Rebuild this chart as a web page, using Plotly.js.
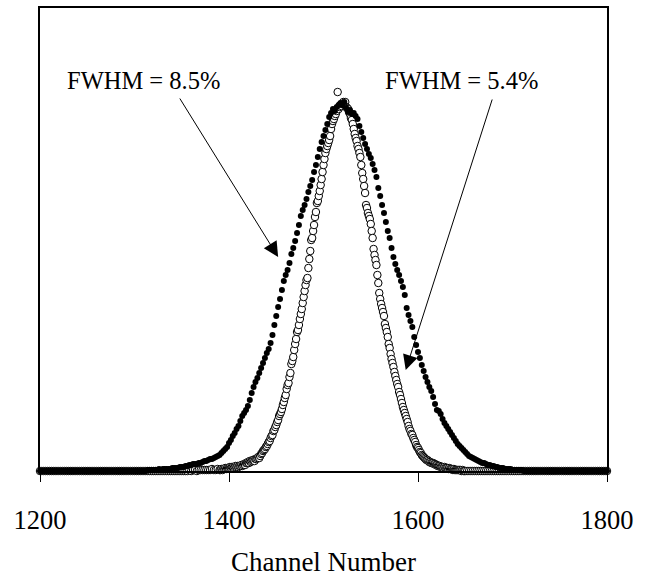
<!DOCTYPE html>
<html><head><meta charset="utf-8">
<script src="https://cdn.plot.ly/plotly-3.0.1.min.js"></script>
<style>html,body{margin:0;padding:0;background:#fff}#chart{width:657px;height:580px}</style>
</head><body><div id="chart"></div>
<script>
// Tick labels
const xTickValues = [1200, 1400, 1600, 1800];
const xTickLabels = ['1200', '1400', '1600', '1800'];
const xAxisTitle = 'Channel Number';
const labelWide = 'FWHM = 8.5%';
const labelNarrow = 'FWHM = 5.4%';

// Wide peak (filled dots, FWHM 8.5%), channel step 2
const wideBaseLeftStart = 1200;
const wideBaseLeft = [0,0,0,0,0,0,0,0,0,0, 0,0,0,0,0,0,0,0,0,0, 0,0,0,0,0,0,0,0,0,0, 0,0,0,0,0,0,0,0,0,0, 0,0,0,0,0,0,0,0,0,0, 0,0,0,0,0,0,0];
const wideMainStart = 1314;
const wideMain = [
  1,1,1,1,1,1,2,1,2,2,
  2,2,2,3,3,3,3,4,4,4,
  5,5,6,6,7,7,7,8,8,9,
  10,10,11,12,12,13,14,15,16,18,
  20,22,24,28,31,35,38,42,45,50,
  55,58,61,65,71,78,84,89,93,98,
  103,108,113,118,122,128,136,146,155,164,
  172,181,190,196,201,208,217,223,230,238,
  246,255,261,266,272,279,285,291,299,306,
  314,322,329,335,341,347,354,358,362,360,
  364,366,368,366,369,363,359,361,357,358,
  355,352,345,339,333,327,322,317,313,307,
  301,294,283,275,266,258,249,240,233,223,
  214,207,201,196,190,184,176,163,156,150,
  144,134,126,119,113,106,100,94,89,84,
  80,74,67,61,60,57,52,48,45,42,
  39,36,33,30,27,25,23,21,19,17,
  15,14,13,12,11,10,9,8,8,7,
  6,6,5,5,4,4,3,3,3,2,
  2,2,2,1,1,1,1,1,1
];
const wideBaseRightStart = 1712;
const wideBaseRight = [0,0,0,0,0,0,0,0,0,0, 0,0,0,0,0,0,0,0,0,0, 0,0,0,0,0,0,0,0,0,0, 0,0,0,0,0,0,0,0,0,0, 0,0,0,0,0];
const wideStep = 2;

// Narrow peak (open circles, FWHM 5.4%)
const narrowBaseLeftStart = 1200;
const narrowBaseLeft = [0,0,0,0,0,0,0,0,0,0, 0,0,0,0,0,0,0,0,0,0, 0,0,0,0,0,0,0,0,0,0, 0,0,0,0,0,0,0,0,0,0, 0,0,0,0,0,0,0,0,0,0, 0,0,0,0,0,0,0,0,0,0, 0,0,0,0,0,0,0,0,0,0, 0,0,0,0,0,0];
const narrowTailLeftStart = 1352;
const narrowTailLeft = [0,0,0,1,0,1,1,0,1,1,1,1,1,1,1,2,1,1,2];
const narrowMainStart = 1390;
const narrowMain = [
  1,1,2,1,2,2,3,2,3,3,
  3,4,3,4,4,3,4,5,4,5,
  4,5,5,6,5,6,7,6,8,8,
  9,8,10,9,10,11,11,10,12,12,
  13,14,13,15,17,18,20,21,22,24,
  25,27,29,30,33,35,36,40,41,44,
  46,49,51,55,57,59,62,66,69,73,
  76,82,86,88,94,98,107,110,114,121,
  127,132,139,141,146,152,157,162,168,174,
  180,186,191,193,203,212,220,231,233,240,
  246,254,259,268,270,275,280,286,292,299,
  306,312,318,322,325,328,331,335,342,347,
  350,352,355,357,360,379,362,364,366,365,
  367,369,366,369,364,363,362,359,357,353,
  351,347,342,337,333,330,325,322,318,314,
  306,298,292,285,278,266,263,258,255,252,
  247,240,233,222,216,211,206,196,188,178,
  172,167,163,159,155,147,143,139,134,127,
  123,117,112,108,104,99,95,91,87,84,
  79,76,72,68,64,61,58,55,52,49,
  45,42,40,37,36,33,31,29,26,24,
  23,21,19,18,16,15,14,13,12,11,
  11,10,9,9,8,8,8,7,7,6,
  6,5,5,5,4,4,4,3,4,3,
  3,3,2,3,2,2,2,1,2,1,
  1,1,1,1,1,1,0,1,0,0,0
];
const narrowBaseRightStart = 1652;
const narrowBaseRight = [0,0,0,0,0,0,0,0,0,0, 0,0,0,0,0,0,0,0,0,0, 0,0,0,0,0,0,0,0,0,0, 0,0,0,0,0,0,0,0,0,0, 0,0,0,0,0,0,0,0,0,0, 0,0,0,0,0,0,0,0,0,0, 0,0,0,0,0,0,0,0,0,0, 0,0,0,0,0];

function channels(start, step, vals) {
  return vals.map((_, i) => start + step * i);
}
function joinSegments(segs) {
  const x = [], y = [];
  segs.forEach(s => { channels(s[0], s[1], s[2]).forEach(v => x.push(v)); s[2].forEach(v => y.push(v)); });
  return {x, y};
}

const wide = joinSegments([
  [wideBaseLeftStart, wideStep, wideBaseLeft],
  [wideMainStart, wideStep, wideMain],
  [wideBaseRightStart, wideStep, wideBaseRight]
]);
const narrow = joinSegments([
  [narrowBaseLeftStart, 2, narrowBaseLeft],
  [narrowTailLeftStart, 2, narrowTailLeft],
  [narrowMainStart, 1, narrowMain],
  [narrowBaseRightStart, 2, narrowBaseRight]
]);

const serif = 'Liberation Serif, Times New Roman, serif';

const traces = [
  {x: narrow.x, y: narrow.y, type: 'scatter', mode: 'markers', cliponaxis: false,
   marker: {symbol: 'circle', size: 7.5, color: '#ffffff', line: {color: '#000000', width: 1}}, hoverinfo: 'x+y'},
  {x: wide.x, y: wide.y, type: 'scatter', mode: 'markers', cliponaxis: false,
   marker: {symbol: 'circle', size: 6, color: '#000000'}, hoverinfo: 'x+y'}
];

const layout = {
  width: 657, height: 580,
  margin: {l: 40, r: 50, t: 8, b: 109},
  paper_bgcolor: '#ffffff', plot_bgcolor: '#ffffff',
  showlegend: false,
  font: {family: serif, color: '#000000'},
  xaxis: {
    range: [1200, 1800], tickvals: xTickValues, ticktext: xTickLabels,
    ticks: 'outside', ticklen: 9, tickwidth: 1, tickcolor: '#000000',
    ticklabelstandoff: 15,
    tickfont: {family: serif, size: 26.5, color: '#000000'},
    showline: true, linewidth: 2, linecolor: '#000000', mirror: true,
    showgrid: false, zeroline: false,
    title: {text: xAxisTitle, font: {family: serif, size: 27, color: '#000000'}, standoff: 18}
  },
  yaxis: {
    range: [0, 463], showticklabels: false, ticks: '',
    showline: true, linewidth: 2, linecolor: '#000000', mirror: true,
    showgrid: false, zeroline: false
  },
  annotations: [
    {x: 1309, y: 391, xref: 'x', yref: 'y', text: labelWide, showarrow: false,
     xanchor: 'center', yanchor: 'middle', font: {family: serif, size: 24.5, color: '#000000'}},
    {x: 1646, y: 391, xref: 'x', yref: 'y', text: labelNarrow, showarrow: false,
     xanchor: 'center', yanchor: 'middle', font: {family: serif, size: 24.5, color: '#000000'}},
    {x: 1452, y: 214, ax: 1347, ay: 374, xref: 'x', yref: 'y', axref: 'x', ayref: 'y',
     text: '', showarrow: true, arrowhead: 2, arrowsize: 3, arrowwidth: 1, arrowcolor: '#000000', standoff: 0},
    {x: 1587, y: 101, ax: 1679, ay: 373, xref: 'x', yref: 'y', axref: 'x', ayref: 'y',
     text: '', showarrow: true, arrowhead: 2, arrowsize: 3, arrowwidth: 1, arrowcolor: '#000000', standoff: 0}
  ]
};

Plotly.newPlot('chart', traces, layout, {displayModeBar: false, staticPlot: true});
</script>
</body></html>
